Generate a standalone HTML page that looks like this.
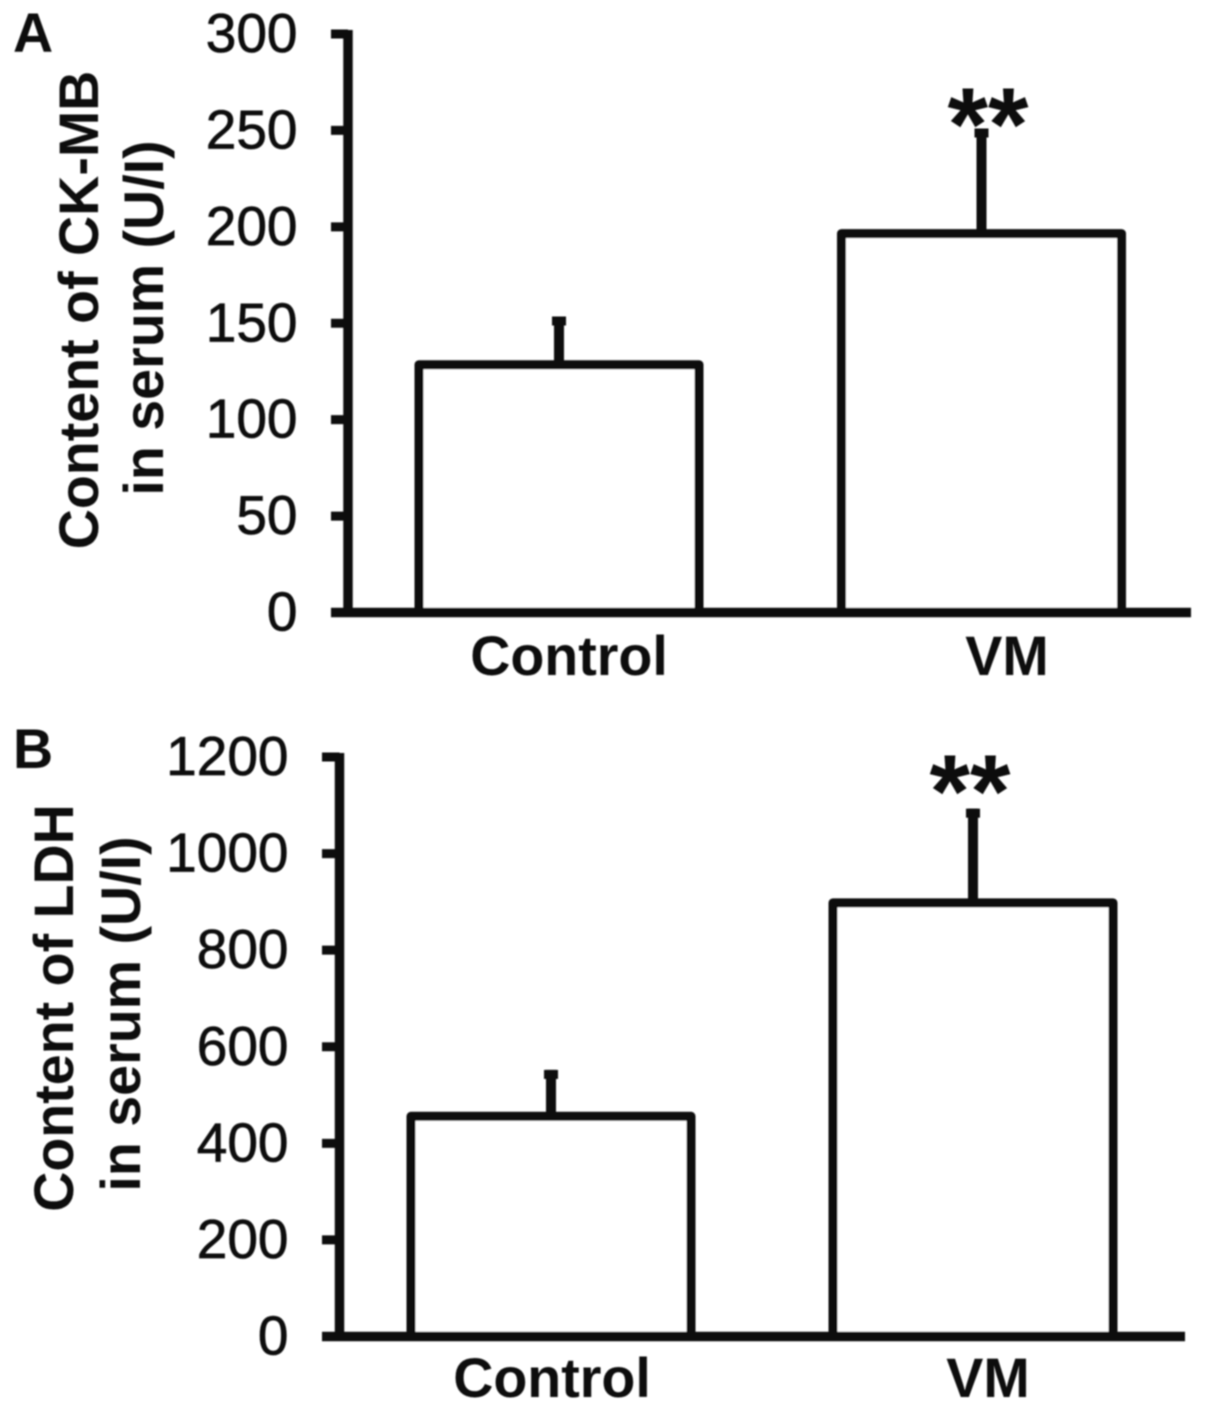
<!DOCTYPE html>
<html lang="en">
<head>
<meta charset="utf-8">
<title>Serum CK-MB and LDH content</title>
<style>
html,body{margin:0;padding:0;background:#fff;}
svg{display:block;width:1205px;height:1410px;}
text{font-family:"Liberation Sans",Arial,sans-serif;fill:#111;}
.tick{font-size:55px;text-anchor:end;stroke:#111;stroke-width:0.7px;}
.bold{font-weight:bold;font-size:55.6px;}
.mid{text-anchor:middle;}
</style>
</head>
<body>
<svg id="figure" xmlns="http://www.w3.org/2000/svg" width="1205" height="1410" viewBox="0 0 1205 1410">
  <defs>
    <filter id="soft" x="-5%" y="-5%" width="110%" height="110%"><feGaussianBlur stdDeviation="0.7"/></filter>
  </defs>
  <rect x="0" y="0" width="1205" height="1410" fill="#fff"/>
  <g id="root" filter="url(#soft)">
    <text x="13" y="52" class="bold">A</text>
    <text x="13" y="768" class="bold">B</text>
    <text transform="translate(98 310) rotate(-90)" class="bold mid">Content of CK-MB</text>
    <text transform="translate(163 318) rotate(-90)" class="bold mid">in serum (U/I)</text>
    <text transform="translate(73 1008) rotate(-90)" class="bold mid">Content of LDH</text>
    <text transform="translate(140 1014) rotate(-90)" class="bold mid">in serum (U/I)</text>
    <g id="chart-a"></g>
    <g id="chart-b"></g>
  </g>
</svg>
<script>
var categories = ['Control', 'VM'];
var ckmbMeans = [128.5, 196.5];
var ckmbErrorTops = [153.5, 251];
var ckmbTicks = [0, 50, 100, 150, 200, 250, 300];
var ckmbSignificance = ['', '**'];
var ldhMeans = [456, 898];
var ldhErrorTops = [552, 1093];
var ldhTicks = [0, 200, 400, 600, 800, 1000, 1200];
var ldhSignificance = ['', '**'];

var SVG_NS = 'http://www.w3.org/2000/svg';
var INK = '#111';

function make(parent, tag, attrs, content) {
  var el = document.createElementNS(SVG_NS, tag);
  Object.keys(attrs).forEach(function (k) { el.setAttribute(k, attrs[k]); });
  if (content !== undefined) el.textContent = content;
  parent.appendChild(el);
  return el;
}

function drawChart(cfg) {
  var g = document.getElementById(cfg.id);
  var maxTick = Math.max.apply(null, cfg.ticks);
  function y(v) { return cfg.y0 + (cfg.yTop - cfg.y0) * v / maxTick; }

  cfg.ticks.forEach(function (t) {
    var mark = make(g, 'line', {x1: cfg.tickX, x2: cfg.axisX, y1: y(t), y2: y(t), stroke: INK, 'stroke-width': 9});
    
    
    var label = make(g, 'text', {x: cfg.labelX, y: y(t) + 18, 'class': 'tick'}, String(t));
    
    
  });

  var yAxis = make(g, 'line', {x1: cfg.axisX, x2: cfg.axisX, y1: y(maxTick) - 4, y2: cfg.y0, stroke: INK, 'stroke-width': 9.5});
  
  

  cfg.categories.forEach(function (c, i) {
    var cx = cfg.barCenters[i];
    var err = make(g, 'line', {x1: cx, x2: cx, y1: y(cfg.errorTops[i]), y2: y(cfg.means[i]), stroke: INK, 'stroke-width': 10});
    
    
    var cap = make(g, 'line', {x1: cx - 7, x2: cx + 7, y1: y(cfg.errorTops[i]) + 4.5, y2: y(cfg.errorTops[i]) + 4.5, stroke: INK, 'stroke-width': 9});
    
    
    var top = y(cfg.means[i]);
    var bar = make(g, 'rect', {x: cx - cfg.barWidth / 2, y: top, width: cfg.barWidth, height: cfg.y0 - top, fill: '#fff', stroke: INK, 'stroke-width': 9, 'stroke-linejoin': 'round'});
    
    
    var catLabel = make(g, 'text', {x: cfg.labelCenters[i], y: cfg.catY, 'class': 'bold mid'}, c);
    
    
    if (cfg.significance[i]) {
      var star = make(g, 'text', {x: cfg.starX, y: cfg.starY, 'class': 'mid', 'font-size': 104, 'font-weight': 'bold'}, cfg.significance[i]);
      
      
    }
  });

  var xAxis = make(g, 'line', {x1: cfg.tickX, x2: cfg.xEnd, y1: cfg.y0, y2: cfg.y0, stroke: INK, 'stroke-width': 9.5});
  
  
}

drawChart({
  id: 'chart-a', categories: categories, means: ckmbMeans, errorTops: ckmbErrorTops,
  ticks: ckmbTicks, significance: ckmbSignificance,
  y0: 612.5, yTop: 34, axisX: 348, tickX: 331, xEnd: 1191, labelX: 297.5,
  barCenters: [559, 981.5], barWidth: 280, labelCenters: [569, 1007], catY: 675,
  starX: 988, starY: 160
});

drawChart({
  id: 'chart-b', categories: categories, means: ldhMeans, errorTops: ldhErrorTops,
  ticks: ldhTicks, significance: ldhSignificance,
  y0: 1336.5, yTop: 757, axisX: 339.5, tickX: 322, xEnd: 1185, labelX: 288.5,
  barCenters: [551, 973], barWidth: 280, labelCenters: [552, 988], catY: 1397,
  starX: 970, starY: 827
});
</script>
</body>
</html>
